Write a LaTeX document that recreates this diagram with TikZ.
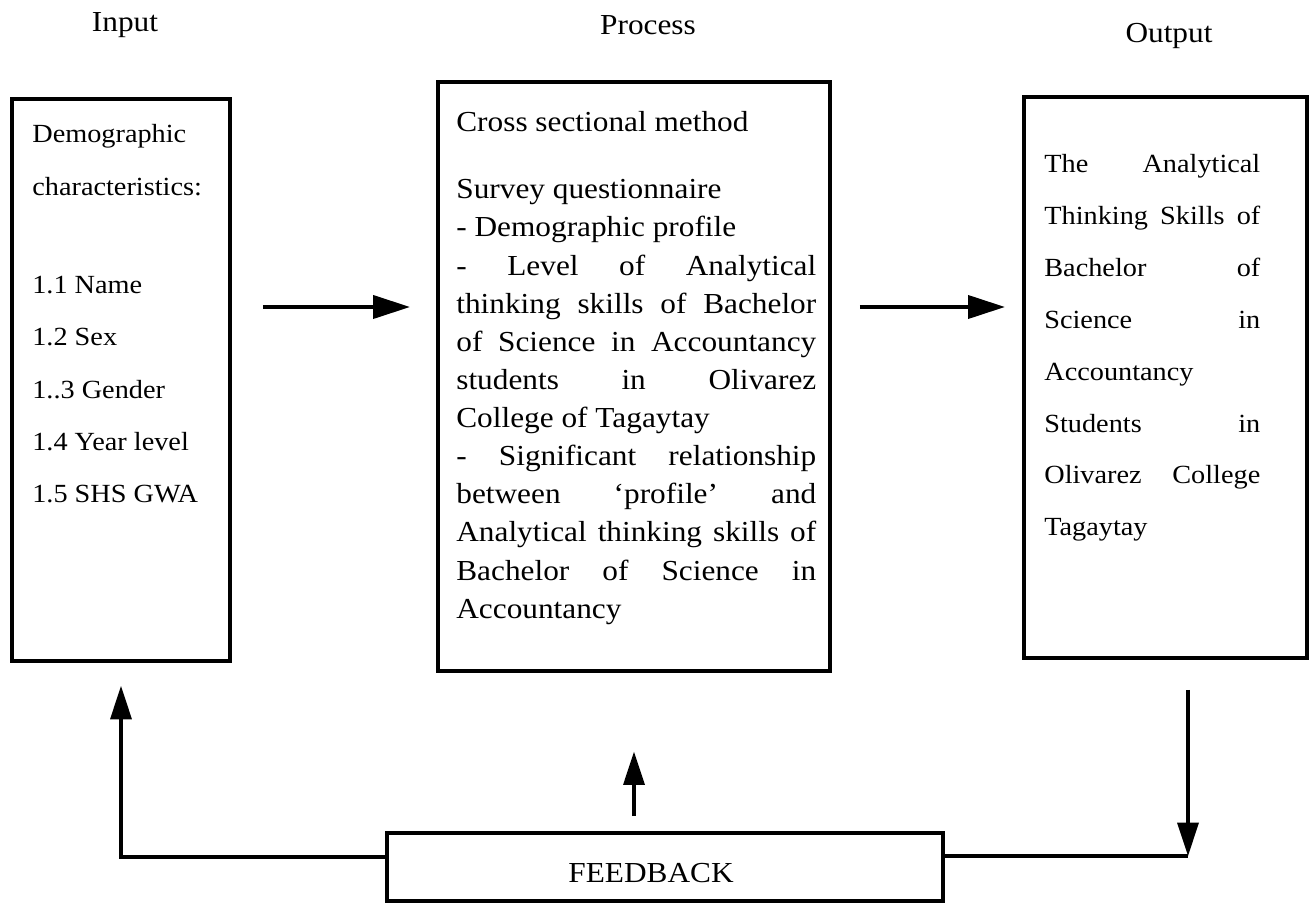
\documentclass[tikz,border=0pt]{standalone}
\usepackage{fontspec}
\setmainfont[FakeStretch=1.08]{Liberation Serif}
\usetikzlibrary{arrows.meta,positioning}
\newcommand{\jline}[2][7.2cm]{\makebox[#1][s]{\spaceskip=0pt\xspaceskip=0pt\relax #2}}
\begin{document}
\begin{tikzpicture}[x=0.02cm, y=-0.02cm, frame/.style={draw,line width=2.6pt,inner sep=0pt}, boxtext/.style={anchor=base west,inner sep=0pt,align=flush left}, arr/.style={line width=2.3pt,-{Triangle[length=21pt,width=13pt]}}, varr/.style={line width=1.8pt,-{Triangle[length=19pt,width=12pt]}}, fbline/.style={line width=2pt}]%
\useasboundingbox (0,0) rectangle (1311,905);
\begin{scope}[every node/.style={anchor=base,font=\fontsize{16.5}{19}\selectfont}]
\node (intitle) at (125,32) {Input};
\node (proctitle) at (648,35) {Process};
\node (outtitle) at (1169,43) {Output};
\end{scope}
\node[frame, minimum width=4.36cm, minimum height=11.24cm] (inbox) at (121,380) {};
\node[frame, minimum width=7.84cm, minimum height=11.78cm] (procbox) at (634,376.5) {};
\node[frame, minimum width=5.66cm, minimum height=11.22cm] (outbox) at (1165.5,377.5) {};
\node[frame, minimum width=11.12cm, minimum height=1.36cm, text height=18pt, text depth=0pt, font=\fontsize{16.5}{19}\selectfont] (fbbox) at (665,867) {FEEDBACK\hspace{0.56cm}\mbox{}};
\node[boxtext, text width=4cm, font=\fontsize{14.9}{29.8}\selectfont] (intext) at (32,143) {Demographic\\characteristics:\\[26pt]1.1 Name\\1.2 Sex\\1..3 Gender\\1.4 Year level\\1.5 SHS GWA};
\node[boxtext, text width=7.2cm, font=\fontsize{16.5}{21.7}\selectfont] (proctext) at (456,132) {Cross sectional method\\[16.3pt]Survey questionnaire\\- Demographic profile\\\jline{- Level of Analytical}\\\jline{thinking skills of Bachelor}\\\jline{of Science in Accountancy}\\\jline{students in Olivarez}\\College of Tagaytay\\\jline{- Significant relationship}\\\jline{between ‘profile’ and}\\\jline{Analytical thinking skills of}\\\jline{Bachelor of Science in}\\Accountancy};
\node[boxtext, text width=4.32cm, font=\fontsize{14.9}{29.5}\selectfont] (outtext) at (1044,173) {\jline[4.32cm]{The Analytical}\\\jline[4.32cm]{Thinking Skills of}\\\jline[4.32cm]{Bachelor of}\\\jline[4.32cm]{Science in}\\Accountancy\\\jline[4.32cm]{Students in}\\\jline[4.32cm]{Olivarez College}\\Tagaytay};
\coordinate (arrowrow) at (0,307);
\coordinate (fbleft) at (0,857);
\coordinate (fbcorner) at (1188,856);
\draw[arr, shorten <=17.4pt, shorten >=14.6pt] (inbox.east |- arrowrow) -- (procbox.west |- arrowrow);
\draw[arr, shorten <=15.7pt, shorten >=9.5pt] (procbox.east |- arrowrow) -- (outbox.west |- arrowrow);
\draw[fbline, varr, shorten >=12.9pt] (fbbox.west |- fbleft) -| (inbox.south);
\draw[varr, shorten <=8.3pt, shorten >=44.6pt] (fbbox.north -| procbox.south) -- (procbox.south);
\draw[fbline] (fbbox.east |- fbcorner) -- (fbcorner);
\draw[varr, shorten <=16.8pt] (outbox.south -| fbcorner) -- (fbcorner);
\end{tikzpicture}
\end{document}
